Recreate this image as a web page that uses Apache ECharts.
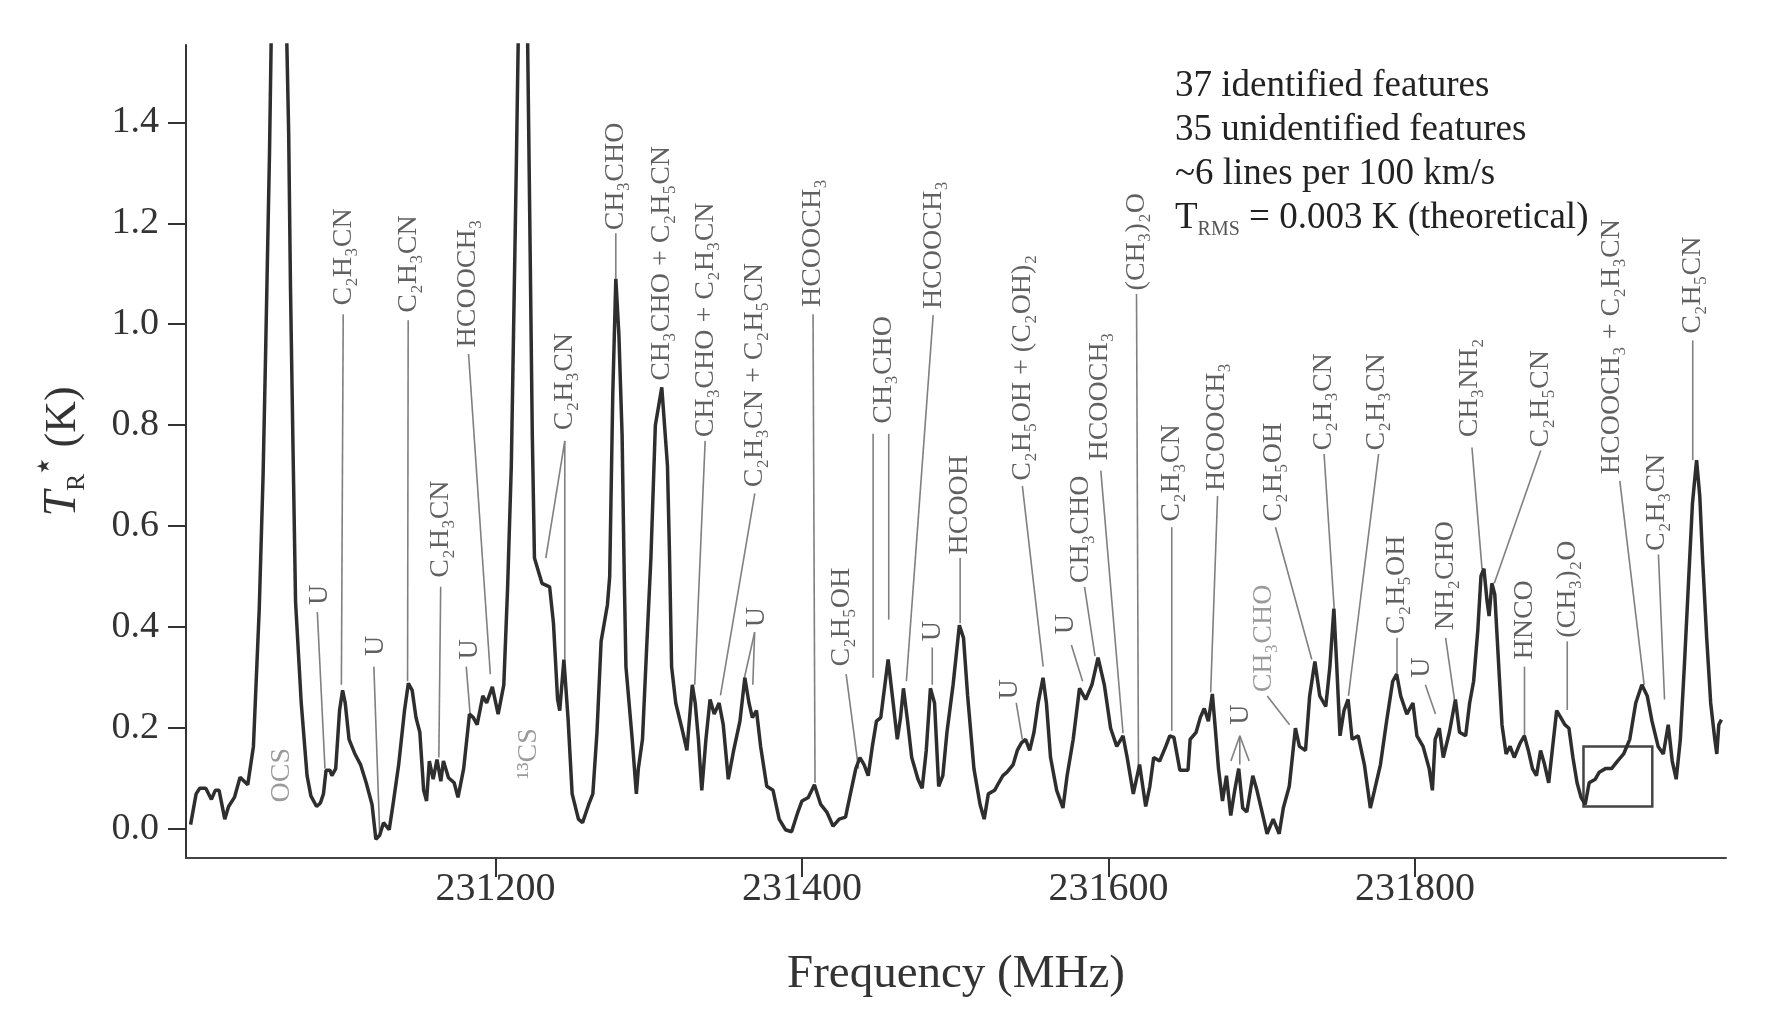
<!DOCTYPE html>
<html><head><meta charset="utf-8">
<script src="https://cdn.jsdelivr.net/npm/echarts@6/dist/echarts.min.js"></script>
<style>html,body{margin:0;padding:0;background:#fff}#c{width:1785px;height:1018px}</style>
</head><body><div id="c"></div>
<script>
// Spectrum: frequency (MHz) and antenna temperature T_R* (K)
const freq = [
231001.0,231004.6,231007.0,231010.9,231014.6,231017.1,231019.6,231023.3,231025.8,231029.6,
231033.3,231038.3,231042.0,231045.8,231048.3,231050.0,231052.5,231054.5,231058.5,231062.5,
231065.0,231066.2,231067.7,231069.5,231073.2,231077.0,231079.5,231083.2,231085.7,231087.7,
231089.4,231091.9,231093.2,231095.7,231098.2,231100.2,231101.9,231104.4,231108.1,231111.9,
231115.6,231119.4,231121.9,231124.4,231126.9,231130.6,231133.1,231136.8,231140.6,231143.1,
231145.6,231148.1,231150.6,231153.1,231155.0,231156.8,231159.3,231161.8,231164.3,231166.0,
231169.3,231173.0,231175.5,231179.2,231183.0,231185.5,231188.0,231191.7,231194.2,231197.9,
231201.7,231205.4,231207.9,231210.3,231213.6,231216.0,231218.0,231220.0,231222.3,231224.0,
231225.4,231230.3,231235.3,231237.8,231240.5,231241.9,231244.6,231247.3,231250.0,231254.1,
231256.8,231260.8,231263.5,231266.2,231268.9,231273.0,231274.5,231275.5,231276.5,231278.5,
231280.5,231282.6,231284.0,231285.1,231289.2,231291.9,231293.2,231295.9,231298.6,231301.4,
231304.3,231308.5,231312.2,231313.5,231314.9,231317.6,231321.6,231324.9,231328.4,231330.3,
231332.4,231334.6,231337.3,231340.0,231342.7,231345.9,231348.6,231351.9,231355.4,231359.5,
231362.7,231365.4,231367.6,231370.3,231373.0,231377.0,231381.1,231385.1,231389.2,231393.2,
231397.3,231400.0,231404.1,231408.1,231412.2,231416.2,231420.3,231424.3,231428.4,231431.1,
231435.1,231437.8,231440.5,231443.2,231445.9,231448.6,231451.4,231454.1,231456.2,231459.5,
231462.2,231464.3,231466.2,231468.9,231471.6,231475.7,231478.4,231481.1,231483.8,231486.5,
231489.2,231491.9,231494.6,231498.6,231502.7,231505.4,231508.1,231512.2,231516.2,231518.9,
231521.6,231525.7,231528.4,231531.1,231533.8,231537.8,231540.5,231543.2,231545.9,231548.6,
231551.4,231554.1,231557.3,231559.5,231562.2,231566.2,231570.3,231573.0,231577.0,231581.1,
231585.1,231589.2,231593.2,231597.3,231601.4,231605.4,231609.5,231612.2,231616.2,231620.3,
231624.3,231627.0,231629.5,231633.4,231637.4,231640.0,231642.7,231646.6,231651.9,231653.3,
231657.2,231659.9,231662.5,231665.2,231667.8,231669.7,231671.8,231674.4,231677.0,231679.8,
231682.4,231685.0,231687.6,231690.3,231694.2,231696.9,231700.8,231703.5,231707.5,231711.4,
231714.1,231718.0,231722.0,231724.6,231728.6,231731.3,231734.7,231737.9,231741.8,231744.5,
231747.1,231749.0,231751.1,231753.7,231756.4,231759.0,231763.0,231767.0,231770.9,231773.6,
231777.5,231781.5,231785.5,231788.1,231790.7,231794.7,231798.7,231801.3,231805.3,231809.3,
231811.4,231813.2,231815.9,231818.5,231822.5,231826.4,231829.1,231833.1,231835.7,231838.3,
231841.0,231843.1,231845.0,231847.1,231848.4,231850.2,231852.1,231854.2,231856.8,231859.5,
231862.1,231864.8,231868.7,231871.4,231874.0,231876.7,231879.3,231882.0,231884.6,231887.3,
231889.9,231892.5,231895.2,231897.8,231900.5,231903.1,231905.8,231908.4,231911.1,231913.7,
231917.7,231920.3,231924.3,231928.3,231932.2,231936.2,231940.2,231944.1,231948.1,231951.6,
231954.7,231958.7,231962.1,231965.3,231967.9,231970.5,231973.2,231975.8,231978.5,231981.1,
231983.8,231985.9,231987.7,231990.4,231993.0,231995.7,231997.0,231998.3,232000.0
];
const temp = [
0.009,0.070,0.081,0.081,0.059,0.077,0.077,0.020,0.045,0.063,
0.103,0.088,0.164,0.436,0.700,0.950,1.340,1.750,2.100,1.750,
1.380,1.070,0.780,0.450,0.250,0.106,0.066,0.045,0.052,0.070,
0.117,0.117,0.106,0.120,0.235,0.275,0.250,0.178,0.150,0.128,
0.092,0.049,-0.020,-0.012,0.013,-0.001,0.049,0.128,0.235,0.289,
0.275,0.221,0.192,0.077,0.056,0.135,0.099,0.138,0.095,0.135,
0.102,0.092,0.063,0.120,0.228,0.221,0.207,0.264,0.250,0.282,
0.228,0.286,0.480,0.720,1.320,1.800,2.000,1.800,1.220,0.780,
0.537,0.487,0.480,0.408,0.257,0.235,0.336,0.221,0.070,0.020,
0.013,0.049,0.070,0.192,0.372,0.444,0.500,0.680,0.860,1.090,
0.980,0.780,0.500,0.322,0.178,0.070,0.120,0.178,0.358,0.537,
0.800,0.875,0.720,0.550,0.322,0.250,0.200,0.156,0.286,0.250,
0.178,0.077,0.178,0.257,0.228,0.250,0.207,0.099,0.156,0.214,
0.300,0.250,0.221,0.235,0.164,0.085,0.077,0.020,-0.001,-0.005,
0.034,0.056,0.063,0.088,0.049,0.034,0.006,0.020,0.024,0.063,
0.120,0.142,0.128,0.106,0.164,0.214,0.221,0.286,0.336,0.250,
0.178,0.221,0.279,0.214,0.142,0.099,0.081,0.156,0.279,0.250,
0.085,0.106,0.192,0.286,0.404,0.379,0.264,0.120,0.049,0.020,
0.070,0.077,0.092,0.106,0.113,0.128,0.156,0.171,0.178,0.156,
0.192,0.250,0.300,0.250,0.142,0.077,0.042,0.106,0.178,0.279,
0.257,0.286,0.340,0.286,0.200,0.164,0.185,0.142,0.070,0.128,
0.045,0.085,0.142,0.135,0.164,0.185,0.182,0.117,0.117,0.178,
0.192,0.221,0.239,0.214,0.268,0.200,0.120,0.056,0.106,0.027,
0.077,0.120,0.042,0.034,0.106,0.077,0.027,-0.009,0.020,-0.009,
0.042,0.085,0.200,0.164,0.156,0.264,0.332,0.264,0.243,0.322,
0.437,0.322,0.185,0.235,0.257,0.178,0.185,0.128,0.042,0.077,
0.128,0.214,0.293,0.307,0.264,0.228,0.250,0.185,0.164,0.120,
0.077,0.178,0.200,0.142,0.192,0.257,0.192,0.185,0.250,0.293,
0.393,0.501,0.516,0.451,0.422,0.487,0.465,0.350,0.207,0.149,
0.164,0.142,0.171,0.185,0.156,0.120,0.106,0.156,0.128,0.092,
0.164,0.235,0.221,0.207,0.200,0.142,0.092,0.063,0.049,0.092,
0.099,0.113,0.120,0.120,0.135,0.149,0.178,0.250,0.286,0.264,
0.214,0.164,0.149,0.207,0.135,0.099,0.178,0.322,0.487,0.645,
0.731,0.659,0.537,0.379,0.250,0.178,0.149,0.207,0.217
];

const xTicks = [231200, 231400, 231600, 231800];
const yTicks = [0, 0.2, 0.4, 0.6, 0.8, 1.0, 1.2, 1.4];

// Line identifications: text, frequency of the label column, T where the text starts
const labelTexts = ['OCS','U','C₂H₃CN','U','C₂H₃CN','C₂H₃CN','U','HCOOCH₃','¹³CS','C₂H₃CN',
 'CH₃CHO','CH₃CHO + C₂H₅CN','CH₃CHO + C₂H₃CN','C₂H₃CN + C₂H₅CN','U','HCOOCH₃','C₂H₅OH','CH₃CHO','HCOOCH₃','U',
 'HCOOH','U','C₂H₅OH + (C₂OH)₂','U','CH₃CHO','HCOOCH₃','(CH₃)₂O','C₂H₃CN','HCOOCH₃','U',
 'CH₃CHO','C₂H₅OH','C₂H₃CN','C₂H₃CN','C₂H₅OH','U','NH₂CHO','CH₃NH₂','HNCO','C₂H₅CN',
 '(CH₃)₂O','HCOOCH₃ + C₂H₃CN','C₂H₃CN','C₂H₅CN'];
const labelFreq = [231060.7,231085.2,231100.6,231121.8,231143.0,231164.2,231182.9,231181.7,231221.5,231245.2,
 231278.5,231308.3,231336.8,231369.2,231370.6,231407.2,231426.1,231453.1,231485.6,231485.0,
 231503.2,231535.7,231543.8,231572.2,231581.7,231594.0,231618.3,231641.3,231670.6,231686.5,
 231701.0,231707.6,231740.7,231775.0,231788.3,231804.2,231820.0,231835.9,231871.5,231882.1,
 231899.4,231928.4,231957.6,231981.3];
const labelT = [0.053,0.444,1.037,0.343,1.023,0.498,0.336,0.954,0.099,0.790,
 1.186,0.888,0.776,0.677,0.400,1.034,0.322,0.803,1.030,0.372,
 0.544,0.257,0.690,0.386,0.487,0.730,1.067,0.609,0.670,0.207,
 0.271,0.609,0.750,0.750,0.386,0.300,0.394,0.776,0.336,0.756,
 0.379,0.703,0.551,0.981];
const faintLabels = ['OCS','¹³CS'];
const faintIndex = [30];

// Leader lines: [freq1, T1, freq2, T2]
const leaders = [
 [231083.7,0.430,231088.7,0.120],[231100.6,1.020,231099.4,0.286],[231120.6,0.322,231124.4,-0.008],
 [231143.0,1.008,231142.6,0.293],[231164.2,0.480,231163.0,0.142],[231180.9,0.322,231183.4,0.228],
 [231182.4,0.941,231196.6,0.307],[231245.2,0.769,231232.8,0.537],[231245.2,0.769,231245.2,0.336],
 [231278.5,1.180,231278.5,1.090],[231336.8,0.769,231330.0,0.286],[231369.2,0.665,231346.8,0.265],
 [231369.1,0.390,231361.9,0.293],[231369.1,0.390,231367.9,0.286],[231407.2,1.020,231408.5,0.092],
 [231428.8,0.307,231436.9,0.120],[231446.4,0.783,231446.4,0.300],[231456.6,0.783,231456.6,0.415],
 [231485.6,1.018,231468.1,0.293],[231485.0,0.360,231485.0,0.286],[231503.2,0.537,231503.2,0.408],
 [231539.8,0.250,231543.8,0.178],[231543.8,0.680,231557.4,0.322],[231575.8,0.365,231583.1,0.293],
 [231584.4,0.480,231591.2,0.343],[231595.0,0.710,231609.5,0.190],[231618.3,1.060,231619.6,0.110],
 [231641.3,0.598,231641.3,0.195],[231671.2,0.660,231666.7,0.271],[231685.7,0.185,231679.9,0.135],
 [231685.7,0.185,231685.7,0.128],[231685.7,0.185,231691.8,0.135],[231703.6,0.264,231718.2,0.207],
 [231709.0,0.598,231732.7,0.336],[231740.7,0.743,231747.3,0.437],[231776.3,0.743,231756.6,0.264],
 [231788.3,0.379,231788.3,0.307],[231806.8,0.286,231813.4,0.228],[231820.0,0.379,231825.8,0.257],
 [231837.2,0.756,231843.8,0.515],[231871.5,0.322,231871.5,0.185],[231882.1,0.750,231851.8,0.487],
 [231899.4,0.372,231899.4,0.236],[231933.7,0.690,231949.6,0.286],[231958.9,0.544,231962.9,0.257],
 [231981.3,0.968,231981.3,0.731]
];
// Highlighted box: [freqMin, Tmin, freqMax, Tmax]
const boxes = [[231910.0,0.045,231954.9,0.164]];

const notes = ['37 identified features','35 unidentified features','~6 lines per 100 km/s'];
const rmsNote = ' = 0.003 K (theoretical)';

const serif = "'Liberation Serif','DejaVu Serif',serif";
const chart = echarts.init(document.getElementById('c'), null, {renderer:'canvas'});

const option = {
  animation: false,
  backgroundColor: '#fff',
  grid: {left: 186, right: 59, top: 45, bottom: 160, containLabel: false},
  xAxis: {
    type: 'value', min: 230998, max: 232003,
    axisLine: {onZero: false, lineStyle: {color: '#444', width: 2}},
    axisTick: {customValues: xTicks, length: 19, lineStyle: {color: '#333', width: 2}},
    axisLabel: {customValues: xTicks, margin: 11, fontSize: 40, fontFamily: serif, color: '#333',
      formatter: v => String(v)},
    splitLine: {show: false},
    name: 'Frequency (MHz)', nameLocation: 'middle', nameGap: 93,
    nameTextStyle: {fontSize: 47, fontFamily: serif, color: '#333'}
  },
  yAxis: {
    type: 'value', min: -0.057, max: 1.553,
    axisLine: {onZero: false, show: true, lineStyle: {color: '#333', width: 2}},
    axisTick: {show: true, customValues: yTicks, length: 18, lineStyle: {color: '#333', width: 2}},
    axisLabel: {customValues: yTicks, margin: 27, fontSize: 38, fontFamily: serif, color: '#333',
      formatter: v => v.toFixed(1)},
    splitLine: {show: false},
    name: '{t|T}{r|R}{s|★}{k| (K)}', nameLocation: 'middle', nameGap: 96, nameRotate: 90,
    nameTextStyle: {fontFamily: serif, color: '#333', rich: {
      t: {fontSize: 46, fontStyle: 'italic', fontFamily: serif, color: '#333', lineHeight: 54},
      r: {fontSize: 26, fontFamily: serif, color: '#333', verticalAlign: 'bottom', lineHeight: 54},
      s: {fontSize: 17, fontFamily: "'DejaVu Sans',sans-serif", color: '#333', verticalAlign: 'top', lineHeight: 54},
      k: {fontSize: 44, fontFamily: serif, color: '#333', lineHeight: 54}
    }}
  },
  graphic: [{
    type: 'text', left: 1175, top: 64, silent: true,
    style: {
      text: notes.join('\n') + '\n{a|T}{b|RMS}{a|' + rmsNote + '}',
      fontSize: 37, fontFamily: serif, fill: '#222', lineHeight: 44,
      rich: {
        a: {fontSize: 37, fontFamily: serif, fill: '#222', lineHeight: 44},
        b: {fontSize: 20, fontFamily: serif, fill: '#555', verticalAlign: 'bottom', lineHeight: 40}
      }
    }
  }],
  series: [
    {
      type: 'custom', coordinateSystem: 'cartesian2d', silent: true, z: 2,
      data: leaders, encode: {x: [0, 2], y: [1, 3]},
      renderItem: (p, api) => {
        const a = api.coord([api.value(0), api.value(1)]);
        const b = api.coord([api.value(2), api.value(3)]);
        return {type: 'line', shape: {x1: a[0], y1: a[1], x2: b[0], y2: b[1]},
          style: {stroke: '#808080', lineWidth: 1.6}};
      }
    },
    {
      type: 'custom', coordinateSystem: 'cartesian2d', silent: true, z: 2,
      data: boxes, encode: {x: [0, 2], y: [1, 3]},
      renderItem: (p, api) => {
        const a = api.coord([api.value(0), api.value(3)]);
        const b = api.coord([api.value(2), api.value(1)]);
        return {type: 'rect', shape: {x: a[0], y: a[1], width: b[0] - a[0], height: b[1] - a[1]},
          style: {fill: 'none', stroke: '#444', lineWidth: 2.5}};
      }
    },
    {
      type: 'custom', coordinateSystem: 'cartesian2d', silent: true, z: 4,
      data: labelTexts.map((t, i) => [labelFreq[i], labelT[i], i]),
      encode: {x: 0, y: 1},
      renderItem: (p, api) => {
        const i = api.value(2);
        const pt = api.coord([api.value(0), api.value(1)]);
        const txt = labelTexts[i];
        const faint = faintLabels.indexOf(txt) >= 0 || faintIndex.indexOf(i) >= 0;
        return {type: 'text', x: pt[0], y: pt[1], rotation: Math.PI / 2,
          style: {text: txt, fontSize: 28, fontFamily: serif, fill: faint ? '#9a9a9a' : '#606060',
            align: 'left', verticalAlign: 'middle'}};
      }
    },
    {
      type: 'line', z: 3, showSymbol: false, symbol: 'none', clip: true, silent: true,
      data: freq.map((f, i) => [f, temp[i]]),
      lineStyle: {color: '#2e2e2e', width: 3.5}
    }
  ]
};
chart.setOption(option);
</script>
</body></html>
